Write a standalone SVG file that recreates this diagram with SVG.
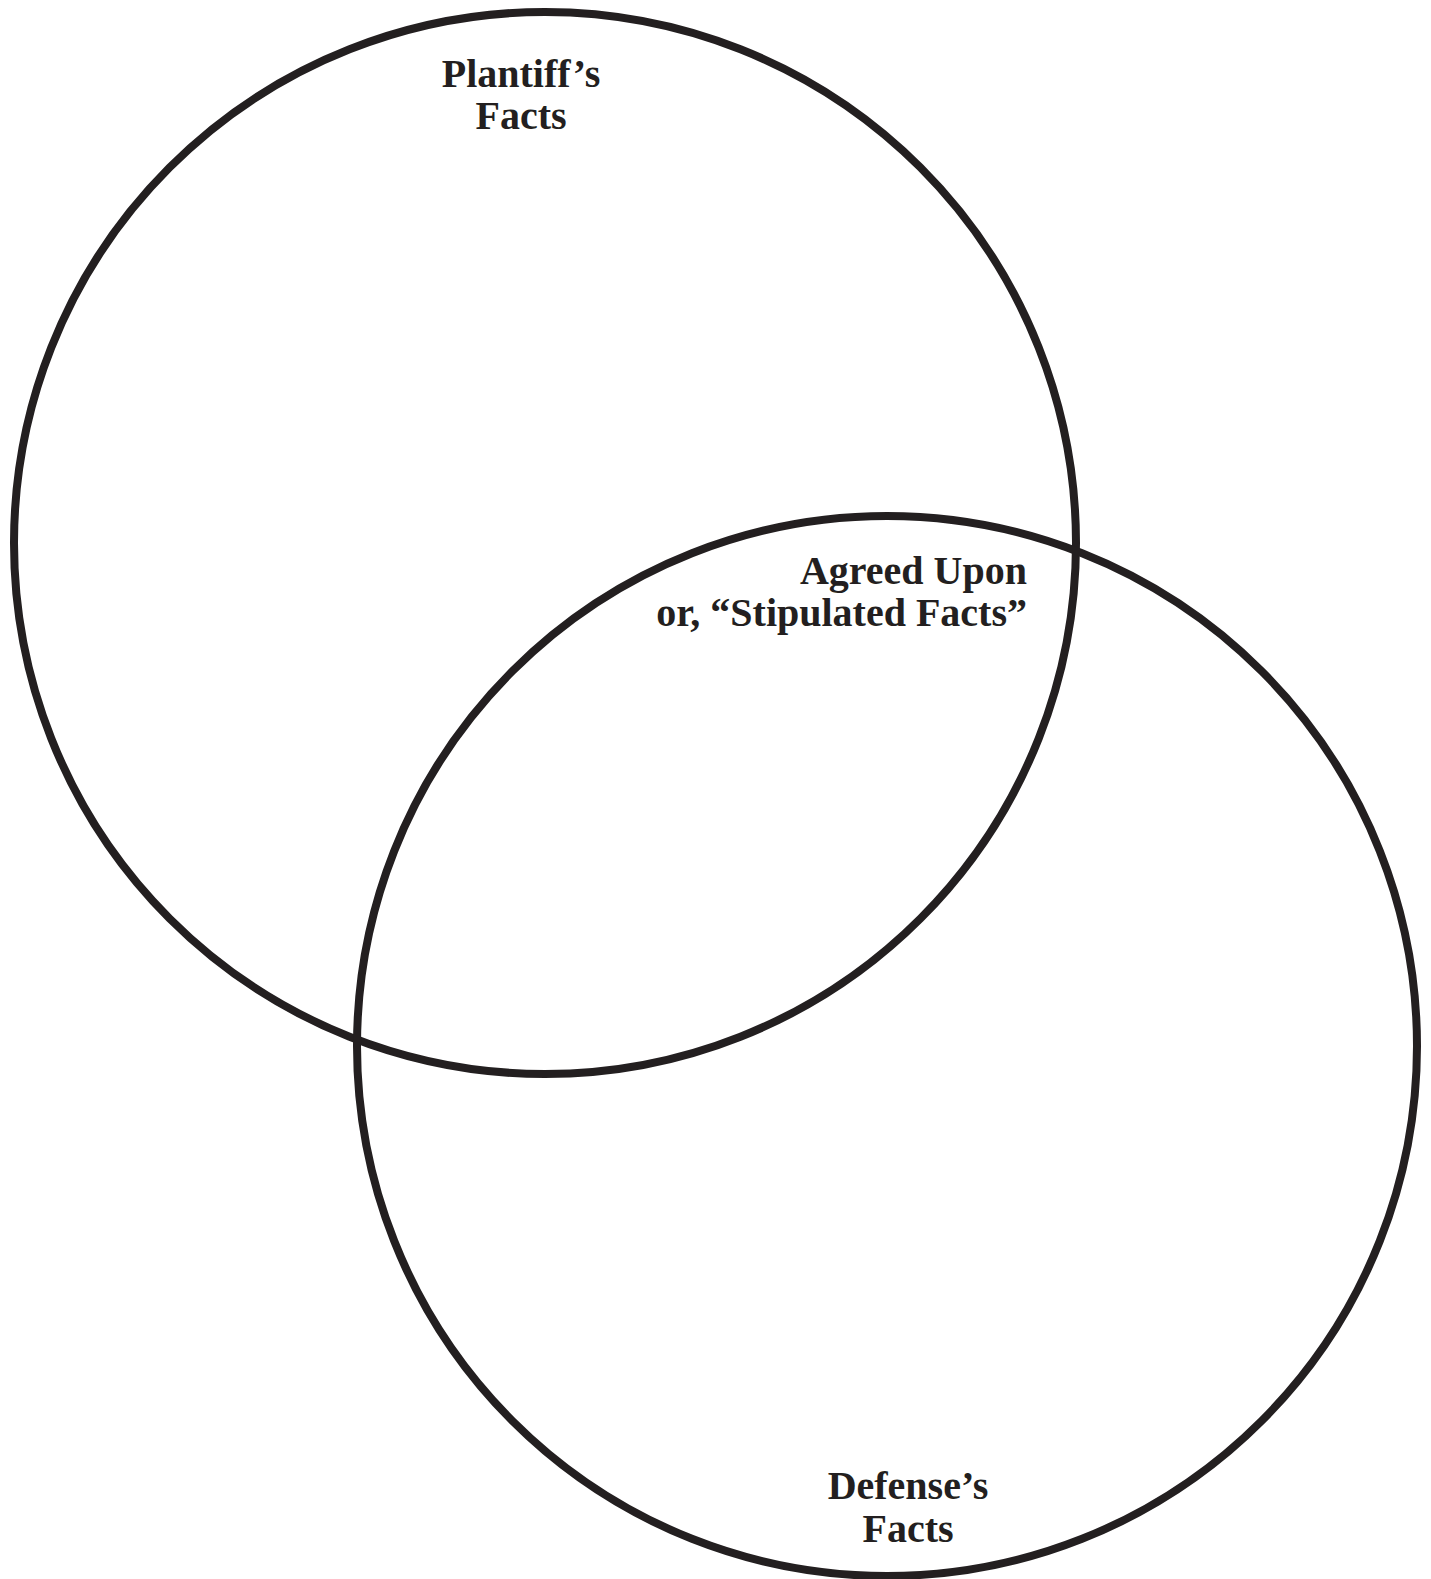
<svg xmlns="http://www.w3.org/2000/svg" width="1431" height="1579" viewBox="0 0 1431 1579">
<style>
.c{fill:none;stroke:#231f20;stroke-width:8}
.t{font-family:"Liberation Serif","Times New Roman",serif;font-weight:bold;font-size:40px;fill:#231f20}
</style>
<rect width="1431" height="1579" fill="#ffffff"/>
<g id="plaintiff">
<circle class="c" cx="545" cy="543" r="531"/>
<text class="t" text-anchor="middle" x="521" y="87">Plantiff’s</text>
<text class="t" text-anchor="middle" x="521" y="129">Facts</text>
</g>
<g id="defense">
<circle class="c" cx="887" cy="1046" r="530"/>
<text class="t" text-anchor="middle" x="908" y="1499">Defense’s</text>
<text class="t" text-anchor="middle" x="908" y="1542">Facts</text>
</g>
<g id="agreed">
<text class="t" text-anchor="end" x="1027" y="584">Agreed Upon</text>
<text class="t" text-anchor="end" x="1027" y="626">or, “Stipulated Facts”</text>
</g>
<g id="connectors"/>
</svg>
